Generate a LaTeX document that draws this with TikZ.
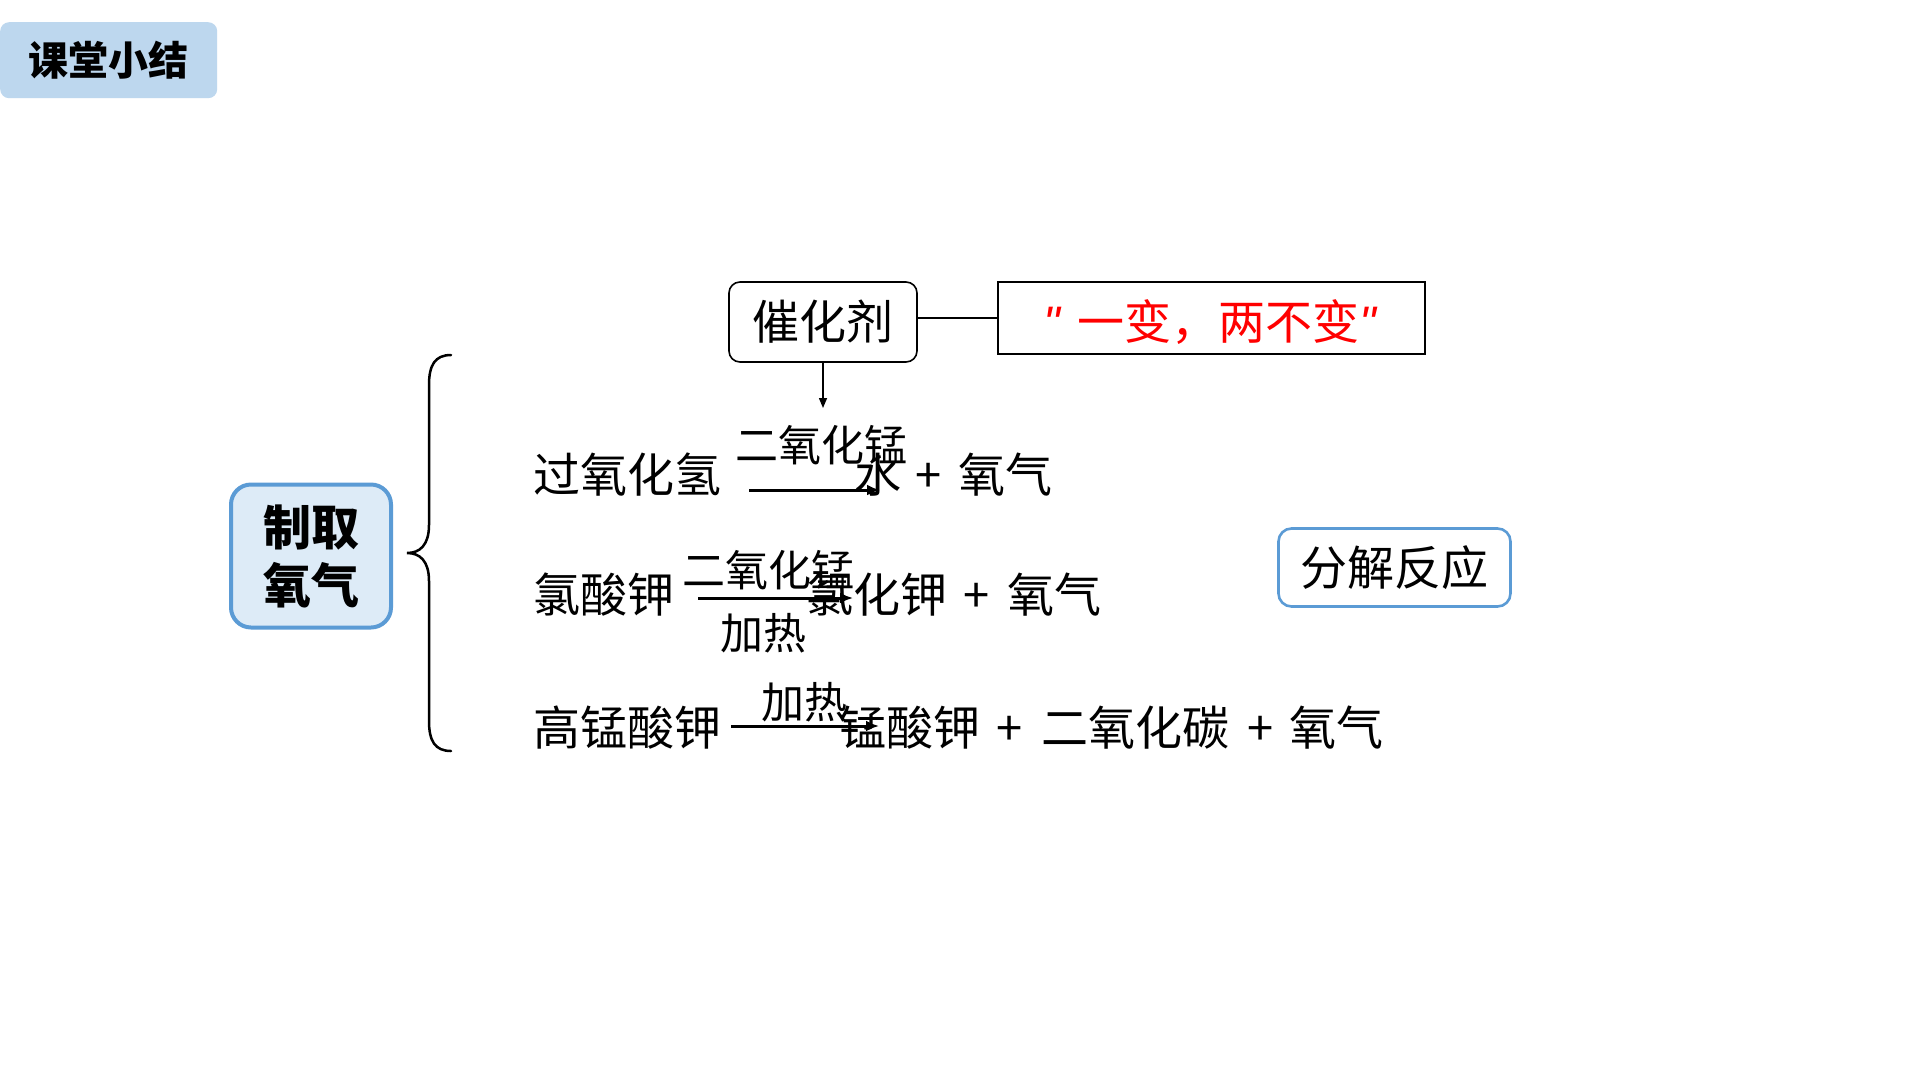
\documentclass[tikz,border=0pt]{standalone}
\usepackage{fontspec}
\setmainfont{Noto Sans CJK SC}
\newfontfamily\quotefont{Liberation Sans}
\usetikzlibrary{arrows.meta}
\definecolor{titlefill}{HTML}{BDD7EE}
\definecolor{boxfill}{HTML}{DDEBF7}
\definecolor{boxblue}{HTML}{5B9BD5}
\definecolor{redtext}{HTML}{FF0000}
\newcommand{\qmark}{{\quotefont\itshape "}}
\tikzset{
  eqtext/.style={inner sep=0pt, anchor=base west, font=\fontsize{47}{50}\selectfont},
  eqplus/.style={inner sep=0pt, anchor=base, font=\fontsize{47}{50}\selectfont},
  condtext/.style={inner sep=0pt, anchor=base, font=\fontsize{43}{46}\selectfont},
  reactarrow/.style={line width=3pt, -{Latex[length=13pt,width=11pt]}},
  bracestyle/.style={line width=2.5pt, line cap=round},
}
\begin{document}
\begin{tikzpicture}[x=1pt,y=-1pt]
\useasboundingbox[fill=white] (0,0) rectangle (1920,1080);

% title
\node[fill=titlefill, rounded corners=9pt, minimum width=217pt, minimum height=76pt, inner sep=0pt, anchor=north west,
      font=\fontsize{40}{42}\selectfont\bfseries] (title) at (0,22) {课堂小结};

% catalyst
\node[draw, rounded corners=11pt, line width=1.6pt, minimum width=188pt, minimum height=80pt, inner sep=0pt,
      font=\fontsize{47}{50}\selectfont] (cat) at (823,322) {催化剂};
\node[draw, line width=1.6pt, minimum width=427pt, minimum height=72pt, inner sep=0pt, text=redtext,
      font=\fontsize{47}{50}\selectfont] (rule) at (1211.5,318) {};
\node[inner sep=0pt, anchor=base, text=redtext, font=\fontsize{47}{50}\selectfont] (ruletext) at (1210,339)
      {\qmark\hspace{17pt}一变，两不变\qmark};
\draw[line width=1.4pt] (rule.west -| cat.east) -- (rule.west);
\coordinate (catarrow) at (823,408);
\draw[line width=1.4pt, -{Triangle[length=10pt,width=8pt]}] (cat.south) -- (catarrow);

% left box
\node[draw=boxblue, fill=boxfill, line width=4pt, rounded corners=20pt, minimum width=160pt, minimum height=143pt,
      inner sep=0pt, align=center, font=\fontsize{48}{58}\selectfont\bfseries] (make) at (311,556) {制取\\氧气};

% decomposition box
\node[draw=boxblue, line width=2.6pt, rounded corners=13pt, minimum width=232pt, minimum height=78pt, inner sep=0pt,
      font=\fontsize{47}{50}\selectfont] (decomp) at (1394.5,567.5) {分解反应};

% brace
\coordinate (bt) at (451,355);
\coordinate (bm) at (407,553);
\coordinate (bb) at (451,751);
\draw[bracestyle] (bt) .. controls (435,355) and (429,365) .. (429,385)
  -- (429,525) .. controls (429,545) and (420,553) .. (bm)
  .. controls (420,553) and (429,561) .. (429,581)
  -- (429,721) .. controls (429,741) and (435,751) .. (bb);

% row 1
\node[eqtext] (r1a) at (533,492) {过氧化氢};
\coordinate (r1s) at (749,490);
\coordinate (r1e) at (880,490);
\draw[reactarrow] (r1s) -- (r1e);
\node[condtext] (r1c) at (821,461) {二氧化锰};
\node[eqtext] (r1b) at (854,492) {水};
\node[eqplus] (r1p) at (929,492) {+};
\node[eqtext] (r1d) at (958,492) {氧气};

% row 2
\node[eqtext] (r2a) at (533,612) {氯酸钾};
\coordinate (r2s) at (698,598);
\coordinate (r2e) at (853,598);
\draw[reactarrow] (r2s) -- (r2e);
\node[condtext] (r2c) at (768,586) {二氧化锰};
\node[condtext] (r2h) at (763,649) {加热};
\node[eqtext] (r2b) at (806,612) {氯化钾};
\node[eqplus] (r2p) at (977,612) {+};
\node[eqtext] (r2d) at (1007,612) {氧气};

% row 3
\node[eqtext] (r3a) at (533,745) {高锰酸钾};
\coordinate (r3s) at (731,726);
\coordinate (r3e) at (879,726);
\draw[reactarrow] (r3s) -- (r3e);
\node[condtext] (r3h) at (804,718) {加热};
\node[eqtext] (r3b) at (839,745) {锰酸钾};
\node[eqplus] (r3p) at (1010,745) {+};
\node[eqtext] (r3c) at (1041,745) {二氧化碳};
\node[eqplus] (r3q) at (1261,745) {+};
\node[eqtext] (r3d) at (1289,745) {氧气};
\end{tikzpicture}
\end{document}
